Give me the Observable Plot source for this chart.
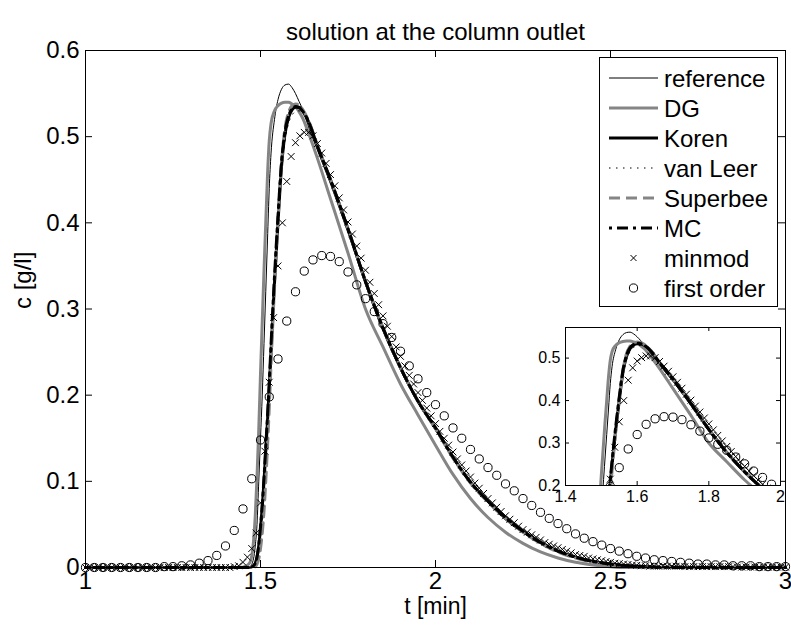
<!DOCTYPE html>
<html><head><meta charset="utf-8">
<script src="https://cdn.jsdelivr.net/npm/d3@7"></script>
<script src="https://cdn.jsdelivr.net/npm/@observablehq/plot@0.6"></script>
<style>
body{margin:0;background:#fff;}
#wrap{position:relative;width:791px;height:627px;overflow:hidden;}
#wrap > svg{position:absolute;}
</style></head><body><div id="wrap"></div>
<script>
// ---------- data ----------
const title = "solution at the column outlet";
const xLabel = "t [min]";
const yLabel = "c [g/l]";
const xTicks = [1, 1.5, 2, 2.5, 3];
const yTicks = [0, 0.1, 0.2, 0.3, 0.4, 0.5, 0.6];
const insetXTicks = [1.4, 1.6, 1.8, 2];
const insetYTicks = [0.2, 0.3, 0.4, 0.5];
const seriesNames = ["reference", "DG", "Koren", "van Leer", "Superbee", "MC", "minmod", "first order"];

// sample times of the line series
const lineT = [1.0, 1.3, 1.44, 1.46, 1.47, 1.48, 1.485, 1.49, 1.495, 1.50, 1.505, 1.51, 1.515, 1.52, 1.525, 1.53,
  1.54, 1.55, 1.56, 1.57, 1.58, 1.59, 1.60, 1.61, 1.62, 1.64, 1.66, 1.70, 1.75, 1.80, 1.85, 1.90, 1.95, 2.00,
  2.05, 2.10, 2.15, 2.20, 2.25, 2.30, 2.35, 2.40, 2.45, 2.50, 2.55, 2.60, 2.70, 3.0];
const refC = [0, 0, 0, 0, 0.001, 0.01, 0.025, 0.05, 0.1, 0.15, 0.2, 0.26, 0.32, 0.38, 0.44, 0.48,
  0.52, 0.543, 0.555, 0.56, 0.561, 0.557, 0.55, 0.541, 0.532, 0.508, 0.487, 0.445, 0.388, 0.328, 0.274, 0.229, 0.191, 0.159,
  0.127, 0.099, 0.075, 0.055, 0.040, 0.028, 0.018, 0.011, 0.006, 0.003, 0.001, 0, 0, 0];
const dgC = [0, 0, 0, 0.002, 0.006, 0.03, 0.06, 0.105, 0.16, 0.225, 0.285, 0.345, 0.40, 0.455, 0.495, 0.515,
  0.530, 0.536, 0.539, 0.540, 0.540, 0.538, 0.535, 0.529, 0.522, 0.501, 0.478, 0.428, 0.365, 0.30, 0.256, 0.213, 0.177, 0.142,
  0.108, 0.08, 0.058, 0.041, 0.028, 0.018, 0.011, 0.006, 0.003, 0.001, 0, 0, 0, 0];
const korenC = [0, 0, 0, 0, 0, 0.002, 0.005, 0.012, 0.025, 0.045, 0.07, 0.1, 0.135, 0.17, 0.208, 0.25,
  0.33, 0.40, 0.465, 0.503, 0.522, 0.531, 0.534, 0.534, 0.530, 0.515, 0.492, 0.45, 0.393, 0.332, 0.278, 0.232, 0.193, 0.162,
  0.128, 0.099, 0.077, 0.058, 0.042, 0.029, 0.019, 0.012, 0.007, 0.004, 0.002, 0.001, 0, 0];
const vanLeerC = [0, 0, 0, 0, 0, 0.002, 0.006, 0.013, 0.027, 0.048, 0.074, 0.104, 0.138, 0.173, 0.21, 0.25,
  0.328, 0.395, 0.455, 0.495, 0.515, 0.525, 0.529, 0.53, 0.527, 0.514, 0.493, 0.452, 0.395, 0.334, 0.28, 0.234, 0.195, 0.163,
  0.129, 0.1, 0.078, 0.059, 0.043, 0.030, 0.02, 0.012, 0.007, 0.004, 0.002, 0.001, 0, 0];
const superbeeC = [0, 0, 0, 0, 0, 0, 0.001, 0.004, 0.01, 0.022, 0.04, 0.065, 0.1, 0.14, 0.185, 0.235,
  0.325, 0.405, 0.47, 0.51, 0.528, 0.536, 0.538, 0.537, 0.532, 0.516, 0.493, 0.45, 0.393, 0.332, 0.278, 0.232, 0.193, 0.161,
  0.127, 0.098, 0.076, 0.057, 0.041, 0.028, 0.018, 0.011, 0.006, 0.003, 0.001, 0, 0, 0];
const mcC = [0, 0, 0, 0, 0, 0.002, 0.005, 0.012, 0.026, 0.047, 0.073, 0.104, 0.14, 0.176, 0.215, 0.258,
  0.338, 0.408, 0.47, 0.506, 0.524, 0.532, 0.535, 0.534, 0.530, 0.515, 0.492, 0.45, 0.393, 0.332, 0.278, 0.232, 0.193, 0.162,
  0.128, 0.099, 0.077, 0.058, 0.042, 0.029, 0.019, 0.012, 0.007, 0.004, 0.002, 0.001, 0, 0];

// marker series: sampled on a regular grid (start, step)
const minmodStart = 1, minmodStep = 0.0125;
const minmodC = [
  0, 0, 0, 0, 0, 0, 0, 0, 0, 0, 0, 0, 0, 0, 0, 0, 0, 0, 0, 0, 0, 0, 0, 0, 0, 0, 0, 0, 0, 0, 0, 0, 0, 0,
  0.001, 0.002,
  0.006, 0.012, 0.022, 0.04, 0.075, 0.135, 0.215, 0.29, 0.35, 0.40, 0.448, 0.477, 0.493, 0.501, 0.505, 0.505,
  0.501, 0.492, 0.481, 0.469, 0.456, 0.443, 0.429, 0.415, 0.401, 0.387, 0.373, 0.359, 0.345, 0.331, 0.318, 0.305,
  0.292, 0.280, 0.268, 0.256, 0.245, 0.234, 0.223, 0.213, 0.203, 0.194, 0.185, 0.176, 0.167, 0.158, 0.150, 0.142,
  0.134, 0.126, 0.119, 0.112, 0.105, 0.098, 0.092, 0.086, 0.080, 0.075, 0.070, 0.065, 0.060, 0.056, 0.052, 0.048,
  0.044, 0.041, 0.038, 0.035, 0.032, 0.029, 0.027, 0.025, 0.023, 0.021, 0.019, 0.017, 0.015, 0.014, 0.013, 0.011,
  0.010, 0.009, 0.008, 0.007, 0.006, 0.005, 0.0045, 0.004, 0.0035, 0.003, 0.0025, 0.002, 0.002,
  0.0015, 0.0015, 0.0015, 0.0015, 0.0015, 0.0015, 0.0015, 0.0015,
  0.001, 0.001, 0.001, 0.001, 0.001, 0.001, 0.001, 0.001, 0.001, 0.001, 0.001, 0.001,
  0.0005, 0.0005, 0.0005, 0.0005, 0.0005, 0.0005, 0.0005, 0.0005, 0.0005, 0.0005, 0.0005, 0.0005];
const firstStart = 1, firstStep = 0.025;
const firstC = [
  0, 0, 0, 0, 0, 0, 0, 0, 0,
  0.001, 0.001, 0.002, 0.003, 0.005, 0.008, 0.014, 0.025, 0.043, 0.068, 0.103,
  0.148, 0.198, 0.242, 0.286, 0.320, 0.344, 0.357, 0.362, 0.361, 0.355, 0.343, 0.328,
  0.312, 0.297, 0.283, 0.267, 0.251, 0.234, 0.219, 0.203, 0.189, 0.176, 0.162, 0.150,
  0.137, 0.126, 0.116, 0.107, 0.097, 0.089, 0.080, 0.072, 0.064, 0.057, 0.051, 0.045,
  0.039, 0.034, 0.030, 0.026, 0.022, 0.019, 0.016, 0.013, 0.011, 0.009, 0.008, 0.007,
  0.006, 0.005, 0.004, 0.004, 0.003, 0.003, 0.002, 0.002, 0.002, 0.001, 0.001, 0.001, 0.001];

// ---------- styles ----------
const FONT = '"Liberation Sans", Arial, Helvetica, sans-serif';
const GRAY = "#858585";
const lineSeries = [
  {name: seriesNames[0], values: refC, stroke: "#000", width: 1, dash: null},
  {name: seriesNames[1], values: dgC, stroke: GRAY, width: 3, dash: null},
  {name: seriesNames[2], values: korenC, stroke: "#000", width: 3, dash: null},
  {name: seriesNames[3], values: vanLeerC, stroke: "#000", width: 1, dash: "1.5,5.5"},
  {name: seriesNames[4], values: superbeeC, stroke: GRAY, width: 3, dash: "11,6"},
  {name: seriesNames[5], values: mcC, stroke: "#000", width: 3, dash: "3,5,11,5"}
];
const minmodRows = minmodC.map((c, i) => ({t: minmodStart + i * minmodStep, c}));
const firstRows = firstC.map((c, i) => ({t: firstStart + i * firstStep, c}));
const fmt = d => String(d);

function dataMarks(opts) {
  const {clip = false, xd = null, yd = null} = opts || {};
  const inside = r => !xd || (r.t >= xd[0] - 0.01 && r.t <= xd[1] + 0.01 && r.c >= yd[0] - 0.01 && r.c <= yd[1] + 0.01);
  const marks = lineSeries.map(s => Plot.line(lineT.map((t, i) => ({t, c: s.values[i]})), {
    x: "t", y: "c", stroke: s.stroke, strokeWidth: s.width, strokeDasharray: s.dash,
    curve: "monotone-x", clip
  }));
  marks.push(Plot.dot(minmodRows.filter(inside), {x: "t", y: "c", symbol: "times", r: 3.2, stroke: "#000", strokeWidth: 1, clip}));
  marks.push(Plot.dot(firstRows.filter(inside), {x: "t", y: "c", symbol: "circle", r: 4.1, stroke: "#000", fill: "none", strokeWidth: 1, clip}));
  return marks;
}

// ---------- main plot ----------
const W = 791, H = 627, mL = 85, mR = 6, mT = 50, mB = 60;
const fW = W - mL - mR, fH = H - mT - mB;
const main = Plot.plot({
  width: W, height: H, marginLeft: mL, marginRight: mR, marginTop: mT, marginBottom: mB,
  x: {domain: [1, 3]}, y: {domain: [0, 0.6]},
  style: {fontFamily: FONT, fontSize: "24px", color: "#000", background: "#fff", overflow: "visible"},
  marks: [
    ...dataMarks(),
    Plot.frame({stroke: "#000", strokeWidth: 1}),
    Plot.tickX(xTicks, {x: d => d, insetTop: fH - 7, stroke: "#000"}),
    Plot.tickX(xTicks, {x: d => d, insetBottom: fH - 7, stroke: "#000"}),
    Plot.tickY(yTicks, {y: d => d, insetRight: fW - 7, stroke: "#000"}),
    Plot.tickY(yTicks, {y: d => d, insetLeft: fW - 7, stroke: "#000"}),
    Plot.axisX({ticks: xTicks, tickSize: 0, tickPadding: 4, tickFormat: fmt, label: null, fontSize: 24}),
    Plot.axisY({ticks: yTicks, tickSize: 0, tickPadding: 6, tickFormat: fmt, label: null, fontSize: 24}),
    Plot.text([xLabel], {text: d => d, frameAnchor: "bottom", dy: 46, fontSize: 23}),
    Plot.text([yLabel], {text: d => d, frameAnchor: "left", dx: -62, rotate: -90, fontSize: 24}),
    Plot.text([title], {text: d => d, frameAnchor: "top", dy: -28, fontSize: 24})
  ]
});
main.style.left = "0px"; main.style.top = "0px";
document.getElementById("wrap").appendChild(main);

// ---------- legend ----------
const legX = 599, legY = 57, legW = 178, legH = 249, rowH = 30, firstRow = 21;
const leg = d3.create("svg").attr("width", legW + 1).attr("height", legH + 1)
  .style("left", legX + "px").style("top", legY + "px");
leg.append("rect").attr("x", 0.5).attr("y", 0.5).attr("width", legW).attr("height", legH)
  .attr("fill", "#fff").attr("stroke", "#000");
seriesNames.forEach((name, i) => {
  const y = firstRow + i * rowH;
  const g = leg.append("g").attr("transform", `translate(0,${y})`);
  const s = lineSeries.find(d => d.name === name);
  if (s) {
    g.append("line").attr("x1", 10).attr("x2", 59).attr("y1", 0).attr("y2", 0)
      .attr("stroke", s.stroke).attr("stroke-width", s.width).attr("stroke-dasharray", s.dash);
  } else if (name === "minmod") {
    g.append("path").attr("d", "M31.5,-3L37.5,3M31.5,3L37.5,-3").attr("stroke", "#000").attr("fill", "none");
  } else {
    g.append("circle").attr("cx", 34.5).attr("cy", 0).attr("r", 4.1).attr("stroke", "#000").attr("fill", "none");
  }
  g.append("text").attr("x", 65).attr("y", 8.5).text(name)
    .attr("font-family", FONT).attr("font-size", 24).attr("fill", "#000");
});
document.getElementById("wrap").appendChild(leg.node());

// ---------- inset ----------
const iL = 40, iR = 6, iT = 5, iB = 30, iFW = 215, iFH = 158;
const ixd = [1.4, 2], iyd = [0.2, 0.572];
const inset = Plot.plot({
  width: iL + iFW + iR, height: iT + iFH + iB, marginLeft: iL, marginRight: iR, marginTop: iT, marginBottom: iB,
  x: {domain: ixd}, y: {domain: iyd},
  style: {fontFamily: FONT, fontSize: "16px", color: "#000", background: "transparent", overflow: "visible"},
  marks: [
    Plot.frame({fill: "#fff", stroke: null}),
    ...dataMarks({clip: true, xd: ixd, yd: iyd}),
    Plot.frame({stroke: "#000", strokeWidth: 1}),
    Plot.tickX(insetXTicks, {x: d => d, insetTop: iFH - 4, stroke: "#000"}),
    Plot.tickX(insetXTicks, {x: d => d, insetBottom: iFH - 4, stroke: "#000"}),
    Plot.tickY(insetYTicks, {y: d => d, insetRight: iFW - 4, stroke: "#000"}),
    Plot.tickY(insetYTicks, {y: d => d, insetLeft: iFW - 4, stroke: "#000"}),
    Plot.axisX({ticks: insetXTicks, tickSize: 0, tickPadding: 5, tickFormat: fmt, label: null, fontSize: 16}),
    Plot.axisY({ticks: insetYTicks, tickSize: 0, tickPadding: 5, tickFormat: fmt, label: null, fontSize: 16})
  ]
});
inset.style.left = (565 - iL) + "px"; inset.style.top = (327 - iT) + "px";
document.getElementById("wrap").appendChild(inset);
</script></body></html>
